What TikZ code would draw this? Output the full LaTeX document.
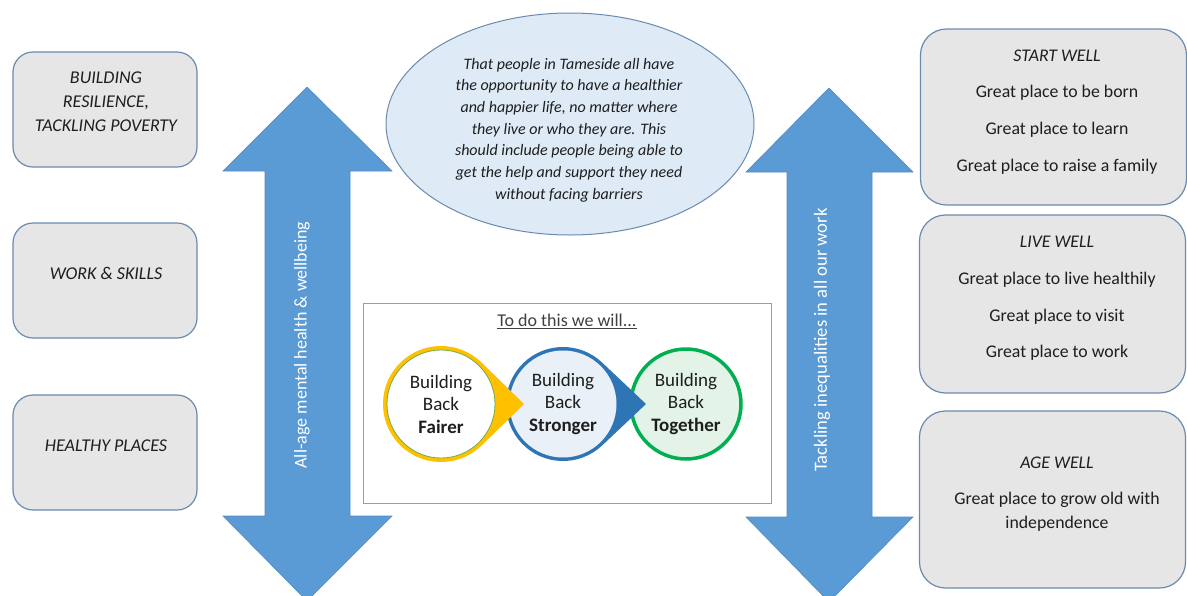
\documentclass[tikz,border=0pt]{standalone}
\usepackage{fontspec}
\setmainfont{Carlito}
\usetikzlibrary{calc,shapes.geometric}

\definecolor{boxfill}{HTML}{E7E6E6}
\definecolor{boxline}{HTML}{6A8BAE}
\definecolor{arrowblue}{HTML}{5B9BD5}
\definecolor{arrowedge}{HTML}{4F8BC4}
\definecolor{visionfill}{HTML}{DEEBF7}
\definecolor{frameline}{HTML}{8EA0B5}
\definecolor{fairgold}{HTML}{FFC000}
\definecolor{strongblue}{HTML}{2E75B6}
\definecolor{strongfill}{HTML}{E9F0F8}
\definecolor{togreen}{HTML}{00B050}
\definecolor{togfill}{HTML}{E3F3E7}
\definecolor{thingreen}{HTML}{70AD47}
\definecolor{ink}{HTML}{1E1E1E}
\definecolor{titleink}{HTML}{404040}

\begin{document}
\begin{tikzpicture}[x=1pt,y=-1pt,
  themebox/.style={draw=boxline, line width=1.2pt, fill=boxfill,
    rounded corners=20pt, minimum width=184pt, minimum height=115pt, inner sep=0pt},
  wellbox/.style={draw=boxline, line width=1.2pt, fill=boxfill,
    rounded corners=26pt, minimum width=266pt, inner sep=0pt},
  themetext/.style={font=\fontsize{18}{24}\selectfont\itshape, text=ink,
    align=center, inner sep=0pt},
  welltext/.style={font=\fontsize{17.8}{36.7}\selectfont, text=ink,
    align=center, inner sep=0pt},
  bigarrow/.style={fill=arrowblue, draw=arrowedge, line width=0.6pt},
  arrowtext/.style={rotate=90, text=white, inner sep=0pt},
  circletext/.style={font=\fontsize{19}{22.5}\selectfont, text=ink,
    align=center, inner sep=0pt, circle},
]
\useasboundingbox (0,0) rectangle (1187,595);
\clip (0,0) rectangle (1187,595);

% ---- left column: themes ----
\node[themebox] (resil) at (105,109.5) {};
\node[themetext] (resiltxt) at (106,102) {BUILDING\\RESILIENCE,\\TACKLING POVERTY};
\node[themebox] (work) at (105,280.5) {};
\node[themetext] (worktxt) at (106,273) {WORK \& SKILLS};
\node[themebox] (places) at (105,452.5) {};
\node[themetext] (placestxt) at (106,446) {HEALTHY PLACES};

% ---- double-headed arrows ----
\fill[bigarrow] (307,87) -- (392,171) -- (350,171) -- (350,516) -- (392,516)
  -- (307,601) -- (223,516) -- (265,516) -- (265,171) -- (223,171) -- cycle;
\node[arrowtext, font=\fontsize{18}{20}\selectfont] (mental) at (302,345)
  {All-age mental health \& wellbeing};

\fill[bigarrow] (829,88) -- (913,172) -- (872,172) -- (872,517) -- (913,517)
  -- (829,602) -- (746,517) -- (787,517) -- (787,172) -- (746,172) -- cycle;
\node[arrowtext, font=\fontsize{18.6}{20}\selectfont] (inequal) at (822,340)
  {Tackling inequalities in all our work};

% ---- vision ellipse ----
\node[ellipse, draw=boxline, line width=1pt, fill=visionfill,
  minimum width=368pt, minimum height=222pt, inner sep=0pt] (vision) at (570,124) {};
\node[font=\fontsize{16}{21.7}\selectfont\itshape, text=ink, align=center,
  inner sep=0pt] (visiontxt) at (569,130)
  {That people in Tameside all have\\
   the opportunity to have a healthier\\
   and happier life, no matter where\\
   they live or who they are. This\\
   should include people being able to\\
   get the help and support they need\\
   without facing barriers};

% ---- central frame ----
\node[draw=frameline, line width=1pt, fill=white, minimum width=408pt,
  minimum height=200pt, inner sep=0pt] (frame) at (567,403) {};
\node[font=\fontsize{18}{20}\selectfont, text=titleink, inner sep=0pt]
  (willtitle) at (567,321) {\underline{To do this we will...}};

\coordinate (p1) at (441,404);
\coordinate (t1) at (524,404);
\coordinate (p2) at (563,404);
\coordinate (t2) at (646,404);
\coordinate (p3) at (686,404);

% Together
\node[circletext, draw=togreen, line width=3.5pt, fill=togfill,
  minimum size=110pt] (together) at (p3) {Building\\Back\\\textbf{Together}};
% Stronger, with its pointer
\fill[strongblue] (t2) -- ($(p2)+(46.6:57)$) arc[start angle=46.6, end angle=313.4, radius=57] -- cycle;
\node[circletext, fill=strongfill, minimum size=107pt] (stronger) at (p2)
  {Building\\Back\\\textbf{Stronger}};
% Fairer, with its pointer
\fill[fairgold] (t1) -- ($(p1)+(46.6:58)$) arc[start angle=46.6, end angle=313.4, radius=58] -- cycle;
\node[circletext, fill=white, draw=thingreen, line width=0.8pt,
  minimum size=108pt] (fairer) at (p1) {Building\\Back\\\textbf{Fairer}};

% ---- right column: life stages ----
\node[wellbox, minimum height=176pt] (start) at (1053.5,117) {};
\node[welltext] (starttxt) at (1057,112)
  {\textit{START WELL}\\Great place to be born\\Great place to learn\\Great place to raise a family};
\node[wellbox, minimum height=178pt] (live) at (1052.5,304) {};
\node[welltext] (livetxt) at (1057,298.5)
  {\textit{LIVE WELL}\\Great place to live healthily\\Great place to visit\\Great place to work};
\node[wellbox, minimum height=177pt] (age) at (1052.5,499.5) {};
\node[welltext, font=\fontsize{17.8}{24}\selectfont] (agetxt) at (1057,494)
  {\textit{AGE WELL}\\[12pt]Great place to grow old with\\independence};
\end{tikzpicture}
\end{document}
